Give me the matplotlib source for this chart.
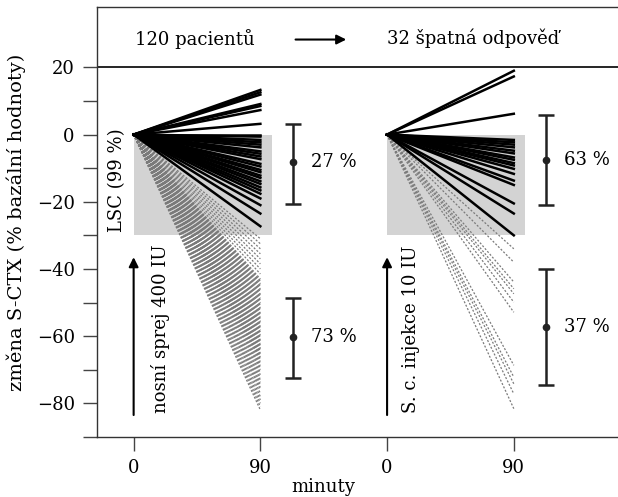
import matplotlib
matplotlib.use("Agg")
import matplotlib.pyplot as plt
from matplotlib.patches import Rectangle

plt.rcParams['font.family'] = ['DejaVu Serif']
plt.rcParams['mathtext.fontset'] = 'dejavuserif'

# x offset of the second panel (minutes axis is reused)
group_offset = 180
t_end = 90

# group 1: nasal spray, 120 patients (end value at 90 min, % of baseline)
nasal_ok = [13.3, 12.6, 11.9, 9.1, 8.5, 7.3, 3.2, 0.0, -0.6, -1.6, -2.3, -3.0,
            -3.8, -5.0, -5.7, -6.5, -7.3, -8.7, -9.5, -10.5, -11.2, -12.2,
            -12.9, -13.9, -14.7, -15.7, -16.6, -17.6, -19.0, -21.0, -23.5, -27.3]
nasal_bad = [-31.0, -32.5, -34.0, -35.5, -37.0, -38.5, -40.0, -41.5,
             -43.0, -43.5, -43.8, -44.3, -44.6, -45.1, -45.4, -45.9, -46.2, -46.7,
             -47.0, -47.5, -47.8, -48.3, -48.6, -49.1, -49.4, -49.9, -50.2, -50.7,
             -51.0, -51.5, -51.8, -52.3, -52.6, -53.1, -53.4, -53.9, -54.2, -54.7,
             -55.0, -55.5, -55.8, -56.3, -56.6, -57.1, -57.4, -57.9, -58.2, -58.7,
             -59.0, -59.5, -59.8, -60.3, -60.6, -61.1, -61.4, -61.9, -62.2, -62.7,
             -63.0, -63.5, -63.8, -64.3, -64.6, -65.1, -65.4, -65.9, -66.2, -66.7,
             -67.0, -67.6, -68.2, -68.8, -69.4,
             -70.0, -70.8, -71.5, -72.3, -73.0, -73.8, -74.5, -75.3, -76.0,
             -77.0, -78.0, -79.0, -80.0, -81.0, -82.0]

# group 2: s.c. injection, 32 poor responders
inj_ok = [19.0, 17.3, 6.2, -1.6, -2.3, -3.0, -3.8, -4.8, -5.6, -6.8, -7.5,
          -8.5, -9.2, -10.2, -11.7, -13.7, -15.0, -20.5, -23.5, -30.0]
inj_bad = [-34.0, -38.0, -43.9, -45.9, -47.4, -49.9, -52.9, -68.7, -72.2,
           -74.2, -77.2, -81.6]

# summary bars: mean, low, high, label
summary_x = [113, 113, group_offset + 113, group_offset + 113]
summary_mean = [-8.3, -60.3, -7.7, -57.3]
summary_low = [-20.8, -72.5, -21.1, -74.6]
summary_high = [3.3, -48.7, 5.7, -40.1]
summary_text = ['27 %', '73 %', '63 %', '37 %']

lsc_low = -30
lsc_width = 98

fig = plt.figure(figsize=(6.18, 4.97), dpi=100)
ax = fig.add_axes([0.157, 0.121, 0.843, 0.865])

dash_style = dict(color='#7a7a7a', lw=0.9, ls=(0, (1.6, 1.4)), zorder=2)
solid_style = dict(color='black', lw=1.8, zorder=3)

for x0, ok, bad in [(0, nasal_ok, nasal_bad), (group_offset, inj_ok, inj_bad)]:
    ax.add_patch(Rectangle((x0, lsc_low), lsc_width, -lsc_low,
                           facecolor='#d3d3d3', edgecolor='none', zorder=1))
    for v in bad:
        ax.plot([x0, x0 + t_end], [0, v], **dash_style)
    for v in ok:
        ax.plot([x0, x0 + t_end], [0, v], **solid_style)
    ax.annotate('', xy=(x0, -36.5), xytext=(x0, -83.5),
                arrowprops=dict(arrowstyle='-|>', color='black', lw=1.5,
                                mutation_scale=14, shrinkA=0, shrinkB=0))

for x, m, lo, hi, s in zip(summary_x, summary_mean, summary_low, summary_high, summary_text):
    ax.errorbar([x], [m], yerr=[[m - lo], [hi - m]], fmt='o', color='#222222',
                ms=4.5, lw=1.8, capsize=6, capthick=1.8, zorder=4)
    ax.text(x + 13, m, s, fontsize=13, va='center', ha='left')

ax.text(19, -83, 'nosní sprej 400 IU', rotation=90, fontsize=13,
        ha='left', va='center', rotation_mode='anchor')
ax.text(group_offset + 17, -83, 'S. c. injekce 10 IU', rotation=90, fontsize=13,
        ha='left', va='center', rotation_mode='anchor')
ax.text(-12, -29, 'LSC (99 %)', rotation=90, fontsize=13,
        ha='left', va='center', rotation_mode='anchor')

# header
ax.axhline(20, color='black', lw=1.2)
ax.text(1, 28.6, '120 pacientů', fontsize=13, ha='left', va='center')
ax.annotate('', xy=(151, 28.3), xytext=(115, 28.3),
            arrowprops=dict(arrowstyle='-|>', color='black', lw=1.5,
                            mutation_scale=14, shrinkA=0, shrinkB=0))
ax.text(group_offset, 28.6, '32 špatná odpověď', fontsize=13, ha='left', va='center')

ax.set_xlim(-26, 344)
ax.set_ylim(-90, 38)
ax.set_xticks([0, t_end, group_offset, group_offset + t_end])
ax.set_xticklabels(['0', '90', '0', '90'])
ax.set_yticks([20, 0, -20, -40, -60, -80])
ax.set_yticklabels(['20', '0', '\u221220', '\u221240', '\u221260', '\u221280'])
ax.set_yticks(list(range(-90, 20, 10)), minor=True)
ax.tick_params(axis='both', which='both', direction='out', length=10,
               width=1.0, color='#444444', labelsize=13, pad=6)
ax.tick_params(axis='x', which='minor', bottom=False)
ax.spines['right'].set_visible(False)
for s in ['left', 'bottom', 'top']:
    ax.spines[s].set_color('#333333')
    ax.spines[s].set_linewidth(1.0)

ax.set_xlabel('minuty', fontsize=13)
ax.set_ylabel('změna S-CTX (% bazální hodnoty)', fontsize=14)
ax.xaxis.set_label_coords((323 - 97) / 521, -0.095)
ax.yaxis.set_label_coords(-0.137, 0.5)

fig.savefig('out.png', dpi=100)
